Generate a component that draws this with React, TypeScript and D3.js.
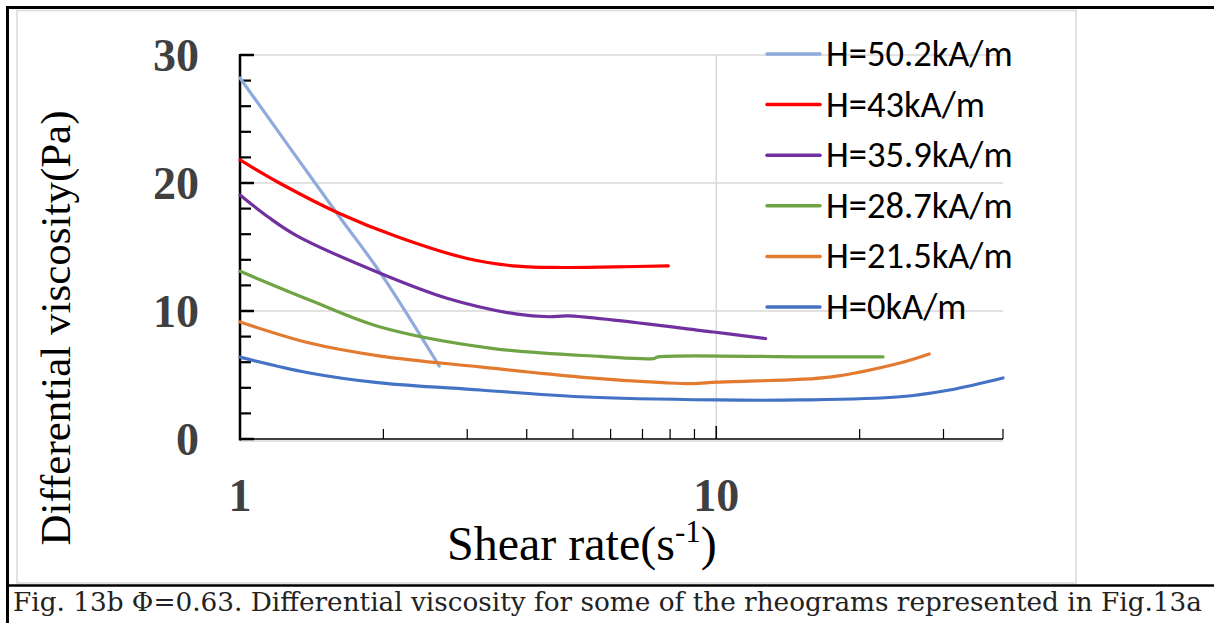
import React from "react";
import * as d3 from "d3";

// ---- data ----
const seriesNames = ["H=50.2kA/m", "H=43kA/m", "H=35.9kA/m", "H=28.7kA/m", "H=21.5kA/m", "H=0kA/m"];
const seriesColors = ["#8faadc", "#ff0000", "#7030a0", "#6ea443", "#e27a30", "#4472c4"];

const shear50 = [1, 1.6, 1.97, 2.62];
const visc50 = [28.2, 17.6, 13.0, 5.7];

const shear43 = [1, 1.21, 1.6, 2.14, 3.0, 3.82, 4.77, 6.08, 7.93];
const visc43 = [21.8, 20.0, 17.7, 15.8, 14.1, 13.5, 13.4, 13.45, 13.52];

const shear359 = [1, 1.15, 1.32, 1.94, 2.72, 3.82, 4.45, 4.89, 9.86, 12.7];
const visc359 = [19.06, 17.3, 15.85, 13.05, 11.0, 9.75, 9.55, 9.62, 8.36, 7.85];

const shear287 = [1, 1.4, 1.97, 3.35, 5.7, 7.37, 7.55, 15, 22.4];
const visc287 = [13.1, 10.86, 8.75, 7.1, 6.45, 6.28, 6.42, 6.42, 6.42];

const shear215 = [1, 1.4, 1.97, 3.19, 5.18, 7.74, 8.93, 10.05, 17.3, 24.3, 28.0];
const visc215 = [9.14, 7.5, 6.48, 5.63, 4.84, 4.4, 4.32, 4.45, 4.84, 5.94, 6.64];

const shear0 = [1, 1.4, 1.97, 3.19, 5.18, 10, 15, 24.3, 30.9, 40];
const visc0 = [6.4, 5.16, 4.38, 3.83, 3.3, 3.05, 3.05, 3.3, 3.83, 4.77];

const yTicks = [0, 10, 20, 30];
const yMinorTicks = [2, 4, 6, 8, 12, 14, 16, 18, 22, 24, 26, 28];
const xTickLabels = [1, 10];
const xMinorTicks = [2, 3, 4, 5, 6, 7, 8, 9, 20, 30, 40];
const yGrid = [10, 20, 30];
const xGrid = [10];

const xTitle = "Shear rate(s";
const xTitleSup = "-1";
const yTitle = "Differential viscosity(Pa)";
const caption = "Fig. 13b \u03A6=0.63. Differential viscosity for some of the rheograms represented  in Fig.13a";

const seriesX = [shear50, shear43, shear359, shear287, shear215, shear0];
const seriesY = [visc50, visc43, visc359, visc287, visc215, visc0];

export default function App() {
  const W = 1214;
  const H = 623;
  const x = d3.scaleLog().domain([1, 40]).range([240, 1003]);
  const y = d3.scaleLinear().domain([0, 30]).range([439, 55]);

  const line = d3
    .line<[number, number]>()
    .x((d) => x(d[0]))
    .y((d) => y(d[1]))
    .curve(d3.curveCatmullRom.alpha(0.5));

  const series = seriesNames.map((name, i) => ({
    name,
    color: seriesColors[i],
    pts: seriesX[i].map((v, j) => [v, seriesY[i][j]] as [number, number]),
  }));

  const [x0, x1] = x.range();
  const tickFont = "'Liberation Serif', 'Times New Roman', serif";

  return (
    <svg
      width={W}
      height={H}
      style={{ position: "absolute", left: 0, top: 0, display: "block", background: "#fff" }}
    >
      <rect x={0} y={0} width={W} height={H} fill="#fff" />
      {/* outer page borders */}
      <line x1={7.5} y1={7.5} x2={W} y2={7.5} stroke="#000" strokeWidth={3} />
      <line x1={7.5} y1={6} x2={7.5} y2={H} stroke="#000" strokeWidth={3} />
      <line x1={7.5} y1={585.5} x2={W} y2={585.5} stroke="#000" strokeWidth={2.5} />
      {/* chart area border */}
      <rect x={17} y={10.5} width={1059} height={572.5} fill="none" stroke="#d9d9d9" strokeWidth={1.5} />

      {/* gridlines */}
      {yGrid.map((v) => (
        <line key={"gy" + v} x1={x0} x2={x1} y1={y(v)} y2={y(v)} stroke="#d9d9d9" strokeWidth={1.5} />
      ))}
      {xGrid.map((v) => (
        <line key={"gx" + v} x1={x(v)} x2={x(v)} y1={y(30)} y2={y(0)} stroke="#d9d9d9" strokeWidth={1.5} />
      ))}

      {/* x axis */}
      <line x1={x0} x2={x1} y1={y(0) + 2} y2={y(0) + 2} stroke="#d9d9d9" strokeWidth={1.5} />
      <line x1={x0} x2={x1} y1={y(0)} y2={y(0)} stroke="#000" strokeWidth={1.5} />
      {xMinorTicks.map((v) => (
        <line key={"xt" + v} x1={x(v)} x2={x(v)} y1={y(0)} y2={y(0) - 10} stroke="#000" strokeWidth={1.2} />
      ))}
      {xTickLabels.map((v) => (
        <line key={"xM" + v} x1={x(v)} x2={x(v)} y1={y(0)} y2={y(0) - 13} stroke="#000" strokeWidth={1.6} />
      ))}
      {xTickLabels.map((v) => (
        <text
          key={"xl" + v}
          x={x(v)}
          y={511}
          textAnchor="middle"
          fontFamily={tickFont}
          fontWeight="bold"
          fontSize={46}
          fill="#404040"
        >
          {v}
        </text>
      ))}

      {/* y axis */}
      <line x1={x0} x2={x0} y1={y(30) - 1} y2={y(0) + 1.5} stroke="#000" strokeWidth={2.5} />
      {yMinorTicks.map((v) => (
        <line key={"yt" + v} x1={x0} x2={x0 + 11} y1={y(v)} y2={y(v)} stroke="#000" strokeWidth={2.2} />
      ))}
      {yTicks.map((v) => (
        <line key={"yM" + v} x1={x0} x2={x0 + 14} y1={y(v)} y2={y(v)} stroke="#000" strokeWidth={2.5} />
      ))}
      {yTicks.map((v) => (
        <text
          key={"yl" + v}
          x={199}
          y={y(v) + 15.5}
          textAnchor="end"
          fontFamily={tickFont}
          fontWeight="bold"
          fontSize={46}
          fill="#404040"
        >
          {v}
        </text>
      ))}

      {/* series */}
      {series.map((s) => (
        <path
          key={s.name}
          d={line(s.pts) || ""}
          fill="none"
          stroke={s.color}
          strokeWidth={3.2}
          strokeLinecap="round"
          strokeLinejoin="round"
        />
      ))}

      {/* legend */}
      {series.map((s, i) => {
        const ly = 54 + i * 50.6;
        return (
          <g key={"lg" + i}>
            <line x1={767} x2={820} y1={ly} y2={ly} stroke={s.color} strokeWidth={3.5} strokeLinecap="round" />
            <text x={826} y={ly + 12} fontFamily="Carlito, Lato, sans-serif" fontSize={36.5} fill="#000">
              {s.name}
            </text>
          </g>
        );
      })}

      {/* axis titles */}
      <text x={447} y={560} fontFamily={tickFont} fontSize={48} fill="#000">
        {xTitle}
        <tspan fontSize={31} dy={-18}>
          {xTitleSup}
        </tspan>
        <tspan dy={18}>)</tspan>
      </text>
      <text
        transform={`translate(70,328) rotate(-90)`}
        textAnchor="middle"
        fontFamily={tickFont}
        fontSize={43}
        fill="#000"
      >
        {yTitle}
      </text>

      {/* caption */}
      <text
        x={13}
        y={611}
        fontFamily="'DejaVu Serif', 'Liberation Serif', serif"
        fontSize={26}
        fill="#222"
        textLength={1189}
        lengthAdjust="spacingAndGlyphs"
      >
        {caption}
      </text>
    </svg>
  );
}
